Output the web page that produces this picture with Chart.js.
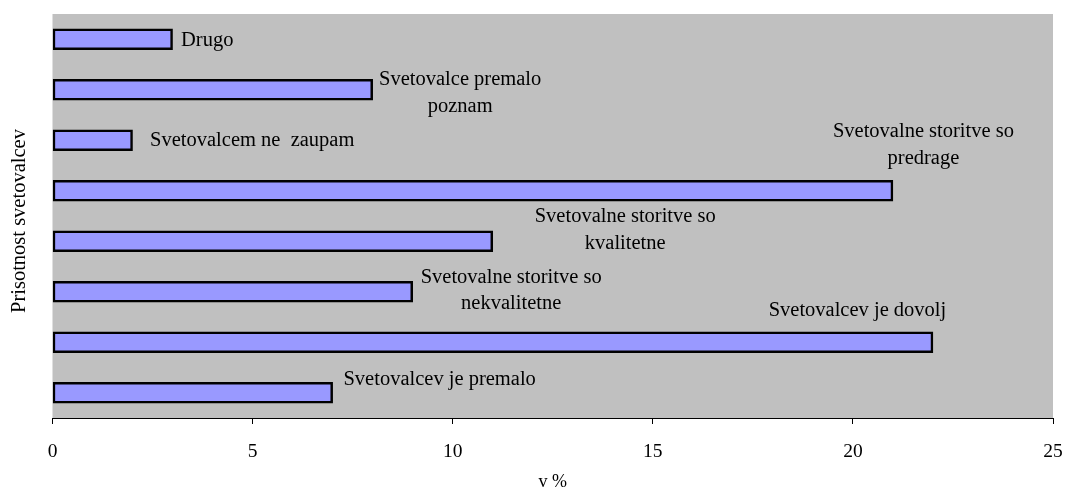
<!DOCTYPE html>
<html>
<head>
<meta charset="utf-8">
<script src="https://cdn.jsdelivr.net/npm/chart.js@4/dist/chart.umd.min.js"></script>
<style>
  html, body { margin: 0; padding: 0; background: #ffffff; }
  #wrap { width: 1065px; height: 493px; }
</style>
</head>
<body>
<div id="wrap"><canvas id="c" width="1065" height="493"></canvas></div>
<script>
// ---- data ----
const categories = [
  "Drugo",
  "Svetovalce premalo poznam",
  "Svetovalcem ne  zaupam",
  "Svetovalne storitve so predrage",
  "Svetovalne storitve so kvalitetne",
  "Svetovalne storitve so nekvalitetne",
  "Svetovalcev je dovolj",
  "Svetovalcev je premalo"
];
const values = [3, 8, 2, 21, 11, 9, 22, 7];
const labelLines = [
  ["Drugo"],
  ["Svetovalce premalo", "poznam"],
  ["Svetovalcem ne  zaupam"],
  ["Svetovalne storitve so", "predrage"],
  ["Svetovalne storitve so", "kvalitetne"],
  ["Svetovalne storitve so", "nekvalitetne"],
  ["Svetovalcev je dovolj"],
  ["Svetovalcev je premalo"]
];
const xTicks = [0, 5, 10, 15, 20, 25];
const xTitle = "v %";
const yTitle = "Prisotnost svetovalcev";

// ---- label placement (style, px offsets from bar end / bar centre) ----
const labelStyle = [
  { align: "left",   dx: 8.5,   dy: 6.75 },
  { align: "center", dx: 87.5,  dy: -4.75 },
  { align: "left",   dx: 17.5,  dy: 6 },
  { align: "center", dx: 30.5,  dy: -53.75 },
  { align: "center", dx: 132.5, dy: -19 },
  { align: "center", dx: 98.5,  dy: -9 },
  { align: "center", dx: -75.5, dy: -26 },
  { align: "left",   dx: 10.8,  dy: -7.75 }
];
const FONT = "'Liberation Serif', 'Times New Roman', serif";
const LABEL_SIZE = 20.5;

const bgPlugin = {
  id: "plotBg",
  beforeDraw(chart) {
    const { ctx, chartArea: a } = chart;
    ctx.save();
    ctx.fillStyle = "#C0C0C0";
    ctx.fillRect(a.left, a.top, a.right - a.left, a.bottom - a.top);
    ctx.restore();
  }
};

const labelPlugin = {
  id: "barLabels",
  afterDatasetsDraw(chart) {
    const { ctx } = chart;
    const xs = chart.scales.x, ys = chart.scales.y;
    ctx.save();
    ctx.font = LABEL_SIZE + "px " + FONT;
    ctx.fillStyle = "#000000";
    ctx.textBaseline = "alphabetic";
    values.forEach((v, i) => {
      const st = labelStyle[i];
      const x = xs.getPixelForValue(v) + st.dx;
      const y = ys.getPixelForValue(i) + st.dy;
      ctx.textAlign = st.align;
      labelLines[i].forEach((line, k) => {
        ctx.fillText(line, x, y + k * 26.7);
      });
    });
    // y axis title (rotated, clipped at top like the original)
    ctx.save();
    ctx.beginPath();
    ctx.rect(0, 121, 50, 372);
    ctx.clip();
    ctx.translate(24.5, 313);
    ctx.rotate(-Math.PI / 2);
    ctx.textAlign = "left";
    ctx.fillText(yTitle, 0, 0);
    ctx.restore();
    ctx.restore();
  }
};

new Chart(document.getElementById("c"), {
  type: "bar",
  data: {
    labels: categories,
    datasets: [{
      data: values,
      backgroundColor: "#9999FF",
      borderColor: "#000000",
      borderWidth: 2.5,
      borderSkipped: false,
      barThickness: 21
    }]
  },
  options: {
    indexAxis: "y",
    responsive: false,
    animation: false,
    devicePixelRatio: 1,
    layout: { padding: { left: 52.5, top: 14, right: 12, bottom: 0 } },
    plugins: { legend: { display: false }, tooltip: { enabled: false } },
    scales: {
      y: { display: false },
      x: {
        min: 0, max: 25,
        afterBuildTicks(scale) { scale.ticks = xTicks.map(v => ({ value: v })); },
        afterFit(scale) {
          scale.height = 75;
          scale.paddingLeft = 0;
          scale.paddingRight = 0;
        },
        grid: { display: true, drawOnChartArea: false, drawTicks: true, tickLength: 6, color: "#000000", lineWidth: 1 },
        border: { display: true, color: "#000000", width: 1 },
        ticks: { color: "#000000", font: { family: FONT, size: 19.5 }, padding: 16, maxRotation: 0 },
        title: { display: true, text: xTitle, color: "#000000", font: { family: FONT, size: 18 }, padding: { top: 13, bottom: 0 } }
      }
    }
  },
  plugins: [bgPlugin, labelPlugin]
});
</script>
</body>
</html>
